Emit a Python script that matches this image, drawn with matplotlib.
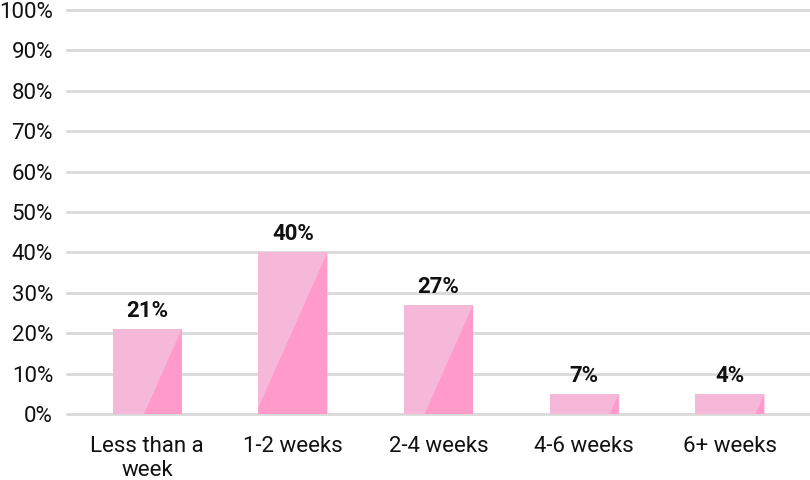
import matplotlib
matplotlib.use("Agg")
import matplotlib.pyplot as plt
from matplotlib.patches import Polygon

plt.rcParams['font.family'] = ['Roboto', 'DejaVu Sans']

# Data
categories = ["Less than a\nweek", "1-2 weeks", "2-4 weeks", "4-6 weeks", "6+ weeks"]
bar_heights = [21, 40, 27, 5, 5]
value_labels = ["21%", "40%", "27%", "7%", "4%"]
y_ticks = [0, 10, 20, 30, 40, 50, 60, 70, 80, 90, 100]

light_pink = "#F6B8D8"
dark_pink = "#FF9ACB"
grid_color = "#D9D9D9"

fig = plt.figure(figsize=(8.1, 4.8), dpi=100)
ax = fig.add_axes([67 / 810, 1 - 414 / 480, 1 - 67 / 810, 404 / 480])
ax.set_xlim(-0.55, 4.55)
ax.set_ylim(0, 100)

for s in ax.spines.values():
    s.set_visible(False)

ax.set_yticks(y_ticks)
ax.set_yticklabels([f"{v}%" for v in y_ticks], fontsize=16, color="#111111")
ax.set_xticks(range(len(categories)))
ax.set_xticklabels(categories, fontsize=16, color="#111111", linespacing=1.15)
ax.tick_params(axis="y", length=0, pad=10)
ax.tick_params(axis="x", length=0, pad=16)

for v in y_ticks:
    ax.axhline(v, color=grid_color, lw=2, zorder=0, clip_on=False)

width = 0.474
bars = ax.bar(range(len(categories)), bar_heights, width=width, color=light_pink, zorder=2)

# diagonal accent: slope in pixels converted to data units
p0 = ax.transData.transform((0, 0))
p1 = ax.transData.transform((1, 1))
sx = p1[0] - p0[0]
sy = p1[1] - p0[1]
k = 2.25 * sx / sy

for i, h in enumerate(bar_heights):
    x0 = i - width / 2
    x1 = i + width / 2
    if h / k <= width:
        pts = [(x1, 0), (x1, h), (x1 - h / k, 0)]
    else:
        pts = [(x1, 0), (x1, h), (x0, h - width * k), (x0, 0)]
    ax.add_patch(Polygon(pts, closed=True, color=dark_pink, lw=0, zorder=3))
    ax.annotate(value_labels[i], (i, h), xytext=(0, 5), textcoords="offset points",
                ha="center", va="bottom", fontsize=16, fontweight="bold", color="#111111")

fig.savefig("out.png", dpi=100)
